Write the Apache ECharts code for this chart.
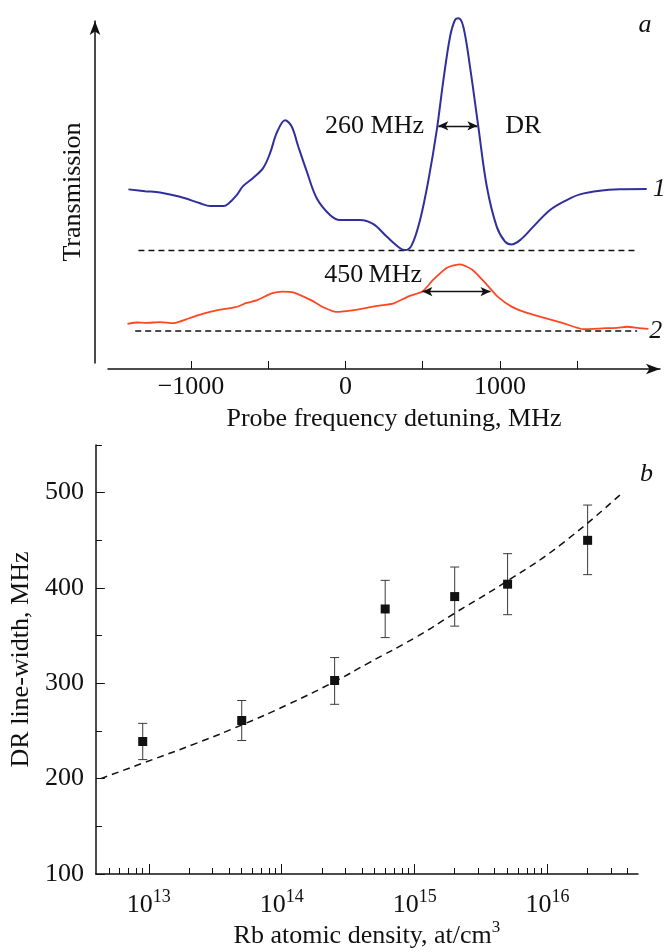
<!DOCTYPE html>
<html><head><meta charset="utf-8">
<script src="https://cdn.jsdelivr.net/npm/echarts@6/dist/echarts.min.js"></script>
<style>html,body{margin:0;padding:0;background:#fff}#c{width:670px;height:952px}</style>
</head><body><div id="c"></div>
<script>
// ---- Panel a: transmission spectra (detuning MHz, transmission arb. units) ----
const curve1 = [[-1405,50.6],[-1297,50.1],[-1200,49.7],[-1071,48.5],[-941,46.7],[-876,45.9],[-790,45.9],[-760,46.5],[-704,49.0],[-663,51.5],[-598,53.8],[-533,56.6],[-488,60.8],[-445,66.5],[-391,70.1],[-348,68.3],[-305,62.6],[-250,55.6],[-186,48.1],[-100,43.4],[-35,42.0],[30,42.0],[94,42.0],[181,40.8],[267,37.3],[354,34.0],[386,33.5],[429,34.9],[483,42.0],[537,53.2],[591,67.3],[634,81.4],[677,93.6],[709,98.3],[731,98.8],[763,96.4],[806,85.2],[860,68.3],[915,51.4],[979,40.1],[1033,35.9],[1076,35.1],[1130,36.3],[1216,40.1],[1324,44.8],[1432,47.6],[1518,49.2],[1648,50.2],[1777,50.6],[1950,50.7]];
const curve2 = [[-1411,12.7],[-1350,13.1],[-1290,13.0],[-1200,13.2],[-1117,12.9],[-1012,14.3],[-920,15.6],[-827,16.6],[-711,17.4],[-640,18.6],[-571,19.4],[-478,21.3],[-408,21.8],[-339,21.6],[-223,19.4],[-129,17.1],[-60,16.1],[56,16.6],[195,17.7],[312,18.5],[405,20.4],[498,21.8],[567,25.1],[660,28.6],[742,29.5],[823,27.9],[916,23.7],[985,20.4],[1078,17.5],[1170,15.9],[1264,14.7],[1404,13.0],[1543,11.2],[1682,11.5],[1760,11.6],[1823,11.9],[1900,11.5],[1961,11.3]];
const baseline1 = [[-1340,33.4],[1894,33.4]];
const baseline2 = [[-1361,10.7],[1888,10.7]];
const detuningTicks = [-1000,-500,0,500,1000,1500];
const detuningLabels = [-1000,0,1000];
const width1Arrow = [[601,68.5],[854,68.5]];
const width2Arrow = [[498,21.8],[939,21.8]];
const annotationsA = [
  {text:'260 MHz', at:[515,68.5], pos:'left', italic:false},
  {text:'DR', at:[1027,68.5], pos:'right', italic:false},
  {text:'450\u2009MHz', at:[502,26.5], pos:'left', italic:false},
  {text:'a', at:[1939,96.9], pos:'inside', italic:true},
  {text:'1', at:[1982,50.7], pos:'right', italic:true},
  {text:'2', at:[1960,10.7], pos:'right', italic:true}
];

// ---- Panel b: DR line-width vs Rb density ----
const densities = [9e12,5e13,2.5e14,6e14,2e15,5e15,2e16];
const lineWidths = [239,261,303,378,391,404,450];
const errLow = [220,240,278,348,360,372,414];
const errHigh = [258,282,327,408,422,436,487];
const fitDensity = [4.35e12,9.3e12,2.27e13,5.14e13,1.08e14,2.51e14,4.45e14,1.01e15,1.97e15,5.19e15,1.27e16,3.59e16];
const fitWidth = [200,217,237,257,277,302,321,348,373,409,446,499];
const densityDecades = [13,14,15,16];
const densityMinorMult = [2,3,4,5,6,7,8,9];
const widthTicks = [100,200,300,400,500];
const widthMinorTicks = [150,250,350,450,550];

const F = '"Liberation Serif","Times New Roman",serif';
const ink = '#111111';
const lg = v => Math.log10(v);
const dMin = 12.602, dMax = 16.68;
const densityMinorTicks = [];
[12,13,14,15,16].forEach(e => densityMinorMult.forEach(k => {
  const v = lg(k) + e; if (v > dMin + 0.01 && v < dMax) densityMinorTicks.push(v);
}));

const chart = echarts.init(document.getElementById('c'), null, {renderer:'canvas'});
const txt = {fontFamily:F, color:ink, fontSize:26};

const option = {
  animation:false,
  backgroundColor:'#fff',
  textStyle:{fontFamily:F},
  grid:[
    {left:108, top:14, width:552, height:355},
    {left:95, top:21, width:1, height:342},
    {left:94, top:445, width:544, height:429}
  ],
  xAxis:[
    {gridIndex:0, type:'value', min:-1537, max:2036,
     axisLine:{show:true, symbol:['none','arrow'], symbolSize:[8,14], lineStyle:{color:ink, width:1.5}},
     axisTick:{show:true, inside:true, length:8, customValues:detuningTicks, lineStyle:{color:ink, width:1}},
     axisLabel:Object.assign({customValues:detuningLabels, margin:5, formatter:v => v < 0 ? '\u2212' + Math.abs(v) : String(v)}, txt),
     splitLine:{show:false},
     name:'Probe frequency detuning, MHz', nameLocation:'middle', nameGap:37,
     nameTextStyle:Object.assign({padding:[0,0,0,20]}, txt)},
    {gridIndex:1, type:'value', min:0, max:1, show:false},
    {gridIndex:2, type:'value', min:dMin, max:dMax, position:'bottom',
     axisLine:{show:true, lineStyle:{color:ink, width:1.5}},
     axisTick:{show:true, inside:true, length:10, customValues:densityDecades, lineStyle:{color:ink, width:1}},
     axisLabel:{customValues:densityDecades, margin:14, formatter:v => '{b|10}{s|' + v + '}',
       rich:{b:{fontSize:26, fontFamily:F, color:ink, lineHeight:30, verticalAlign:'bottom'},
             s:{fontSize:18, fontFamily:F, color:ink, lineHeight:18, verticalAlign:'top'}}},
     splitLine:{show:false},
     name:'{t|Rb atomic density, at/cm}{s|3}', nameLocation:'middle', nameGap:40,
     nameTextStyle:{rich:{t:{fontSize:26, fontFamily:F, color:ink, lineHeight:30, verticalAlign:'bottom'},
                          s:{fontSize:17, fontFamily:F, color:ink, lineHeight:17, verticalAlign:'top'}}}},
    {gridIndex:2, type:'value', min:dMin, max:dMax, position:'bottom',
     axisLine:{show:false},
     axisTick:{show:true, inside:true, length:6, customValues:densityMinorTicks, lineStyle:{color:ink, width:1}},
     axisLabel:{show:false}, splitLine:{show:false}}
  ],
  yAxis:[
    {gridIndex:0, type:'value', min:0, max:100, show:false},
    {gridIndex:1, type:'value', min:0, max:1, position:'left',
     axisLine:{show:true, symbol:['none','arrow'], symbolSize:[8,14], lineStyle:{color:ink, width:1.5}},
     axisTick:{show:false}, axisLabel:{show:false}, splitLine:{show:false},
     name:'Transmission', nameLocation:'middle', nameGap:9, nameRotate:90, nameTextStyle:txt},
    {gridIndex:2, type:'value', min:100, max:550, position:'left',
     axisLine:{show:true, lineStyle:{color:ink, width:1.5}},
     axisTick:{show:true, inside:true, length:9, customValues:widthTicks, lineStyle:{color:ink, width:1}},
     axisLabel:Object.assign({customValues:widthTicks, margin:12}, txt),
     splitLine:{show:false},
     name:'DR line-width, MHz', nameLocation:'middle', nameGap:58, nameRotate:90, nameTextStyle:txt},
    {gridIndex:2, type:'value', min:100, max:550, position:'left',
     axisLine:{show:false},
     axisTick:{show:true, inside:true, length:6, customValues:widthMinorTicks, lineStyle:{color:ink, width:1}},
     axisLabel:{show:false}, splitLine:{show:false}}
  ],
  series:[
    {type:'line', xAxisIndex:0, yAxisIndex:0, data:baseline1, symbol:'none',
     lineStyle:{color:ink, width:1.5, type:[6,4]}},
    {type:'line', xAxisIndex:0, yAxisIndex:0, data:baseline2, symbol:'none',
     lineStyle:{color:ink, width:1.5, type:[6,4]}},
    {type:'line', xAxisIndex:0, yAxisIndex:0, data:curve1, symbol:'none', smooth:0.35,
     lineStyle:{color:'#2f2f9e', width:2},
     markLine:{silent:true, symbol:['arrow','arrow'], symbolSize:[7,10], label:{show:false},
       lineStyle:{color:ink, width:1.3, type:'solid'},
       data:[[{coord:width1Arrow[0]},{coord:width1Arrow[1]}]]}},
    {type:'line', xAxisIndex:0, yAxisIndex:0, data:curve2, symbol:'none', smooth:0.2,
     lineStyle:{color:'#ff4622', width:1.8},
     markLine:{silent:true, symbol:['arrow','arrow'], symbolSize:[7,10], label:{show:false},
       lineStyle:{color:ink, width:1.3, type:'solid'},
       data:[[{coord:width2Arrow[0]},{coord:width2Arrow[1]}]]}},
    {type:'scatter', xAxisIndex:0, yAxisIndex:0, symbolSize:0.1, itemStyle:{color:ink, opacity:1}, silent:true,
     data:annotationsA.map(a => ({value:a.at, name:a.text,
       label:{show:true, position:a.pos, distance:1, formatter:a.text, fontFamily:F, fontSize:26, color:ink,
              opacity:1, fontStyle:a.italic ? 'italic' : 'normal', textBorderWidth:0}}))},
    {type:'line', xAxisIndex:2, yAxisIndex:2, data:fitDensity.map((d,i) => [lg(d), fitWidth[i]]),
     symbol:'none', smooth:0.5, lineStyle:{color:ink, width:1.5, type:[7,5]}},
    {type:'custom', xAxisIndex:2, yAxisIndex:2, silent:true,
     data:densities.map((d,i) => [lg(d), errLow[i], errHigh[i]]),
     encode:{x:0, y:[1,2]},
     renderItem:(params, api) => {
       const x = api.value(0);
       const p1 = api.coord([x, api.value(1)]);
       const p2 = api.coord([x, api.value(2)]);
       const w = 4.5, st = {stroke:'#3a3a3a', lineWidth:1};
       return {type:'group', children:[
         {type:'line', shape:{x1:p1[0], y1:p1[1], x2:p2[0], y2:p2[1]}, style:st},
         {type:'line', shape:{x1:p1[0]-w, y1:p1[1], x2:p1[0]+w, y2:p1[1]}, style:st},
         {type:'line', shape:{x1:p2[0]-w, y1:p2[1], x2:p2[0]+w, y2:p2[1]}, style:st}
       ]};
     }},
    {type:'scatter', xAxisIndex:2, yAxisIndex:2, symbol:'rect', symbolSize:9,
     itemStyle:{color:'#111111', opacity:1}, data:densities.map((d,i) => [lg(d), lineWidths[i]])},
    {type:'scatter', xAxisIndex:2, yAxisIndex:2, symbolSize:0.1, itemStyle:{color:ink, opacity:1}, silent:true,
     data:[{value:[dMax, 519], label:{show:true, position:'right', distance:2, formatter:'b', fontFamily:F,
            fontSize:26, color:ink, opacity:1, fontStyle:'italic', textBorderWidth:0}}]}
  ]
};
chart.setOption(option);
</script>
</body></html>
